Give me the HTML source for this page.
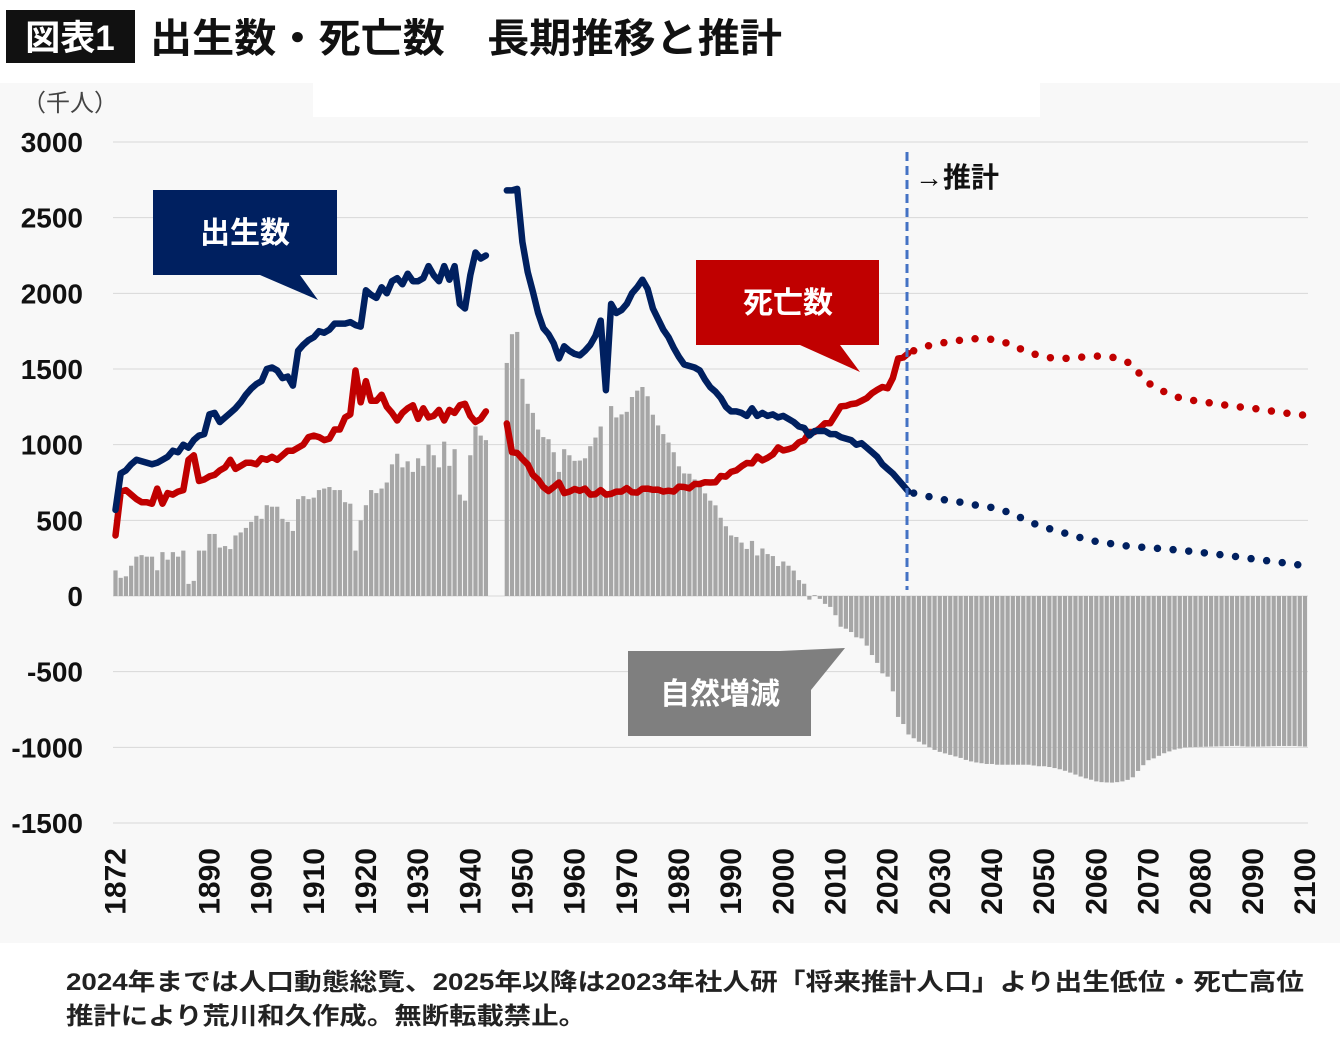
<!DOCTYPE html>
<html><head><meta charset="utf-8"><style>
body{margin:0;background:#fff;}
svg{display:block;font-family:"Liberation Sans","Noto Sans CJK JP",sans-serif;}
</style></head><body>
<svg id="chart" width="1340" height="1038" viewBox="0 0 1340 1038" xmlns="http://www.w3.org/2000/svg">
<rect x="0" y="0" width="1340" height="1038" fill="#fff"/>
<rect x="0" y="83" width="1340" height="860" fill="#f8f8f8"/>
<rect x="313" y="83" width="727" height="34" fill="#fff"/>
<rect x="6" y="10" width="129" height="53" fill="#111"/>
<text x="70" y="50" fill="#fff" font-size="35" font-weight="bold" text-anchor="middle">図表1</text>
<text x="150" y="52" fill="#111" font-size="40" font-weight="bold" textLength="632" lengthAdjust="spacingAndGlyphs">出生数・死亡数　長期推移と推計</text>
<text x="22" y="111" fill="#444" font-size="24">（千人）</text>
<g id="grid"></g><g id="bars"></g><g id="lines"></g><g id="axes"></g>
<line x1="907" y1="152" x2="907" y2="590" stroke="#4472c4" stroke-width="3" stroke-dasharray="9 5"/>
<text x="915" y="187" font-size="28" font-weight="bold" fill="#111">→推計</text>
<g>
<polygon points="153,190 337,190 337,275 300,275 318,300 260,275 153,275" fill="#002060"/>
<text x="245" y="243" fill="#fff" font-size="30" font-weight="bold" text-anchor="middle">出生数</text></g>
<g>
<polygon points="696,260 879,260 879,345 840,345 860,372 800,345 696,345" fill="#c00000"/>
<text x="788" y="313" fill="#fff" font-size="30" font-weight="bold" text-anchor="middle">死亡数</text></g>
<g>
<polygon points="628,651 780,651 845,648 811,690 811,736 628,736" fill="#7f7f7f"/>
<text x="720" y="704" fill="#fff" font-size="30" font-weight="bold" text-anchor="middle">自然増減</text></g>
<text x="66" y="990" font-size="24" font-weight="bold" fill="#222" textLength="1238" lengthAdjust="spacingAndGlyphs">2024年までは人口動態総覧、2025年以降は2023年社人研「将来推計人口」より出生低位・死亡高位</text>
<text x="66" y="1024" font-size="24" font-weight="bold" fill="#222" textLength="520" lengthAdjust="spacingAndGlyphs">推計により荒川和久作成。無断転載禁止。</text>
</svg>
<script>
const startYear = 1872;
const births = [
569,810,830,870,900,890,880,870,
880,900,920,960,950,1000,980,1030,1060,1070,
1200,1210,1150,1180,1210,1240,1280,1330,1370,1400,
1420,1500,1510,1490,1440,1450,1390,1620,1660,1690,
1710,1750,1740,1760,1800,1800,1800,1810,1790,1780,
2020,1990,1970,2040,2000,2080,2100,2060,2130,2080,
2080,2100,2180,2120,2080,2180,2090,2180,1930,1900,
2120,2270,2230,2250,null,null,null,2680,2680,2690,
2340,2140,2010,1870,1770,1730,1670,1570,1650,1620,
1600,1590,1620,1660,1720,1820,1360,1930,1870,1890,
1930,2000,2040,2090,2030,1900,1830,1760,1710,1640,
1580,1530,1520,1510,1490,1430,1380,1350,1310,1250,
1220,1220,1210,1190,1240,1190,1210,1190,1200,1180,
1190,1170,1150,1120,1110,1060,1090,1090,1090,1070,
1070,1050,1040,1030,1000,1010,980,950,920,870,
840,810,770,730,690,680,672,664,656,648,
640,635,630,625,620,612,605,600,595,590,
585,575,565,555,540,525,510,495,480,465,
455,445,435,425,415,405,395,385,375,368,
360,355,350,345,340,335,330,327,324,322,
320,317,314,311,308,305,302,299,296,292,
288,284,280,276,272,268,264,260,255,250,
245,240,236,232,228,224,219,214,209,205,200];
const deaths = [
400,690,700,670,640,620,620,610,
710,610,680,670,690,700,900,930,760,770,
790,800,830,850,900,840,860,880,880,870,
910,900,920,900,930,960,960,980,1000,1050,
1060,1050,1030,1040,1100,1100,1180,1200,1490,1280,
1420,1290,1290,1330,1250,1210,1160,1210,1240,1260,
1170,1240,1180,1190,1230,1160,1230,1210,1260,1270,
1190,1150,1170,1220,null,null,null,1140,950,945,
905,870,800,770,720,694,720,750,680,690,
707,695,710,670,673,700,670,675,690,690,
713,685,683,709,710,702,703,690,696,690,
723,720,712,740,740,752,750,751,793,789,
820,830,857,879,876,922,896,913,936,982,
962,970,982,1015,1029,1084,1084,1109,1142,1142,
1197,1253,1256,1268,1273,1290,1308,1340,1362,1381,
1373,1440,1569,1576,1605,1620,1635,1645,1655,1665,
1670,1675,1680,1685,1690,1695,1698,1700,1700,1700,
1695,1690,1680,1670,1655,1640,1625,1610,1600,1590,
1580,1575,1572,1570,1570,1572,1575,1578,1580,1582,
1585,1585,1582,1578,1570,1560,1545,1525,1480,1440,
1405,1390,1370,1350,1335,1320,1310,1300,1295,1290,
1285,1280,1275,1270,1265,1260,1255,1250,1248,1245,
1240,1235,1230,1225,1220,1215,1210,1205,1200,1198,1195];
const lastActualYear = 2024;
const yTicks = [3000,2500,2000,1500,1000,500,0,-500,-1000,-1500];
const xTickLabels = [1872,1890,1900,1910,1920,1930,1940,1950,1960,1970,1980,1990,2000,2010,2020,2030,2040,2050,2060,2070,2080,2090,2100];

const NS="http://www.w3.org/2000/svg";
const X0=115.5, X1=1305, Y3000=142, Y0=596;
const xs=yr=>X0+(yr-1872)*(X1-X0)/228;
const ys=v=>Y0-(v)*(Y0-Y3000)/3000;
function mk(tag,attrs,parent){const e=document.createElementNS(NS,tag);for(const k in attrs)e.setAttribute(k,attrs[k]);parent.appendChild(e);return e;}
const grid=document.getElementById('grid'),axes=document.getElementById('axes'),barsG=document.getElementById('bars'),linesG=document.getElementById('lines');
yTicks.forEach(v=>{
  if(v!==0){const l=mk('line',{x1:113,x2:1308,y1:ys(v),y2:ys(v),stroke:'#d9d9d9','stroke-width':1},grid);
  
  }
  const t=mk('text',{x:83,y:ys(v)+10,'text-anchor':'end','font-size':28,'font-weight':'bold',fill:'#111'},axes);
  t.textContent=v;
  
  
});
xTickLabels.forEach(yr=>{
  const x=xs(yr)+10;
  const t=mk('text',{x:0,y:0,transform:`translate(${x},848) rotate(-90)`,'text-anchor':'end','font-size':30,'font-weight':'bold',fill:'#111'},axes);
  t.textContent=yr;
  
  
});
births.forEach((b,i)=>{
  const d=deaths[i]; if(b==null||d==null) return;
  const n=b-d, x=xs(startYear+i);
  const y1=ys(Math.max(n,0)), y2=ys(Math.min(n,0));
  const r=mk('rect',{x:x-2.1,y:y1,width:4.2,height:Math.max(y2-y1,0.5),fill:'#a6a6a6'},barsG);
  
  
});
mk('line',{x1:113,x2:1308,y1:Y0,y2:Y0,stroke:'#d9d9d9','stroke-width':1},grid);
function drawSeries(arr,color,name){
  let d='',pen=false,dp='';
  arr.forEach((v,i)=>{const yr=startYear+i;
    if(yr>lastActualYear) return;
    if(v==null){pen=false;return;}
    d+=(pen?'L':'M')+xs(yr).toFixed(1)+','+ys(v).toFixed(1);pen=true;});
  arr.forEach((v,i)=>{const yr=startYear+i;
    if(yr<lastActualYear+1||v==null) return;
    dp+=(dp?'L':'M')+xs(yr).toFixed(1)+','+ys(v).toFixed(1);});
  const p=mk('path',{d:d,fill:'none',stroke:color,'stroke-width':6.5,'stroke-linejoin':'round','stroke-linecap':'round'},linesG);
  
  
  const q=mk('path',{d:dp,fill:'none',stroke:color,'stroke-width':7.5,'stroke-linecap':'round','stroke-dasharray':'0 15.7'},linesG);
  
  
}
drawSeries(deaths,'#c00000','deaths');
drawSeries(births,'#002060','births');
</script>
</body></html>
